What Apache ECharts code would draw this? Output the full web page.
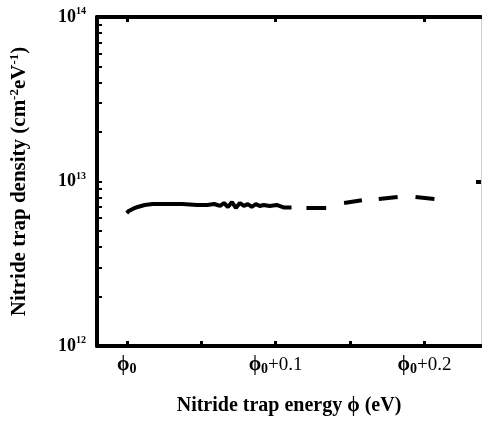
<!DOCTYPE html>
<html>
<head>
    <meta charset="utf-8">
    <title>Nitride trap density</title>
    <script src="https://cdn.jsdelivr.net/npm/echarts@6/dist/echarts.min.js"></script>
    <style>
        html, body { margin: 0; padding: 0; background: #fff; }
        #main { width: 482px; height: 426px; }
    </style>
</head>
<body>
<div id="main"></div>
<script>
    // energy offset from phi0 (eV); null in density marks a gap between dashes
    var energy = [0.000, 0.0013, 0.004, 0.0073, 0.012, 0.0173, 0.0273, 0.0373, 0.0473, 0.054, 0.0587,
        0.0627, 0.0653, 0.068, 0.0707, 0.0733, 0.076, 0.0787, 0.0813, 0.084, 0.0867, 0.0893, 0.092,
        0.096, 0.1007, 0.1053, 0.1107,
        0.115,
        0.1207, 0.134,
        0.140,
        0.146, 0.158,
        0.163,
        0.1693, 0.182,
        0.188,
        0.194, 0.2067];
    var density = [6.43e12, 6.62e12, 6.81e12, 7.0e12, 7.2e12, 7.3e12, 7.3e12, 7.3e12, 7.2e12, 7.2e12, 7.3e12,
        7.1e12, 7.4e12, 7.0e12, 7.5e12, 6.9e12, 7.4e12, 7.1e12, 7.3e12, 7.0e12, 7.3e12, 7.1e12, 7.2e12,
        7.1e12, 7.2e12, 6.95e12, 6.95e12,
        null,
        6.9e12, 6.9e12,
        null,
        7.4e12, 7.7e12,
        null,
        7.83e12, 8.05e12,
        null,
        8.05e12, 7.83e12];

    var xTicks = [0, 0.05, 0.1, 0.15, 0.2];
    var xLabels = [0, 0.1, 0.2];
    var yMajor = [1e12, 1e13, 1e14];
    var yTicks = [];
    for (var d = 12; d < 14; d++) {
        for (var m = 1; m < 10; m++) yTicks.push(m * Math.pow(10, d));
    }
    yTicks.push(1e14);

    var serif = '"Liberation Serif", "DejaVu Serif", serif';
    var chart = echarts.init(document.getElementById('main'));

    var points = energy.map(function (x, i) { return [x, density[i]]; });

    var option = {
        animation: false,
        grid: { left: 94, right: 1, top: 17, bottom: 80 },
        xAxis: [
            {
                type: 'value',
                position: 'bottom',
                min: -0.02,
                max: 0.238,
                name: 'Nitride trap energy \u03d5 (eV)',
                nameLocation: 'middle',
                nameGap: 50,
                nameTextStyle: { fontFamily: serif, fontWeight: 'bold', fontSize: 20, color: '#000' },
                splitLine: { show: false },
                axisLine: { onZero: false, lineStyle: { color: '#000', width: 4 } },
                axisTick: { inside: true, length: 5, customValues: xTicks, lineStyle: { color: '#000', width: 3 } },
                axisLabel: {
                    customValues: xLabels,
                    margin: 8,
                    formatter: function (v) {
                        if (Math.abs(v) < 1e-9) return '{p|\u03d5}{s|0}';
                        return '{p|\u03d5}{s|0}{n|+' + v.toFixed(1) + '}';
                    },
                    rich: {
                        p: { fontFamily: serif, fontWeight: 'bold', fontSize: 20, color: '#000' },
                        s: { fontFamily: serif, fontWeight: 'bold', fontSize: 14, color: '#000', padding: [8, 0, 0, 0] },
                        n: { fontFamily: serif, fontSize: 19, color: '#000' }
                    }
                }
            },
            {
                type: 'value',
                position: 'top',
                min: -0.02,
                max: 0.238,
                splitLine: { show: false },
                axisLine: { onZero: false, lineStyle: { color: '#000', width: 4 } },
                axisTick: { inside: true, length: 5, customValues: xLabels, lineStyle: { color: '#000', width: 3 } },
                axisLabel: { show: false }
            }
        ],
        yAxis: [
            {
                type: 'log',
                logBase: 10,
                min: 1e12,
                max: 1e14,
                position: 'left',
                name: '{t|Nitride trap density (cm}{u|-2}{t|eV}{u|-1}{t|)}',
                nameLocation: 'middle',
                nameRotate: 90,
                nameGap: 66,
                nameTextStyle: {
                    rich: {
                        t: { fontFamily: serif, fontWeight: 'bold', fontSize: 21, color: '#000' },
                        u: { fontFamily: serif, fontWeight: 'bold', fontSize: 13, color: '#000', padding: [0, 0, 10, 0] }
                    }
                },
                splitLine: { show: false },
                axisLine: { show: true, onZero: false, lineStyle: { color: '#000', width: 4 } },
                axisTick: { inside: true, length: 5, customValues: yTicks, lineStyle: { color: '#000', width: 2 } },
                axisLabel: {
                    customValues: yMajor,
                    margin: 11,
                    formatter: function (v) {
                        return '{b|10}{e|' + Math.round(Math.log(v) / Math.LN10) + '}';
                    },
                    rich: {
                        b: { fontFamily: serif, fontWeight: 'bold', fontSize: 18, color: '#000' },
                        e: { fontFamily: serif, fontWeight: 'bold', fontSize: 10, color: '#000', padding: [0, 0, 11, 0] }
                    }
                }
            },
            {
                type: 'log',
                logBase: 10,
                min: 1e12,
                max: 1e14,
                position: 'right',
                splitLine: { show: false },
                axisLine: { show: true, onZero: false, lineStyle: { color: '#d0d0d0', width: 1 } },
                axisTick: { inside: true, length: 5, customValues: [1e13], lineStyle: { color: '#000', width: 4 } },
                axisLabel: { show: false }
            }
        ],
        series: [{
            type: 'line',
            xAxisIndex: 0,
            yAxisIndex: 0,
            data: points,
            showSymbol: false,
            connectNulls: false,
            lineStyle: { color: '#000', width: 4 }
        }]
    };
    chart.setOption(option);
</script>
</body>
</html>
